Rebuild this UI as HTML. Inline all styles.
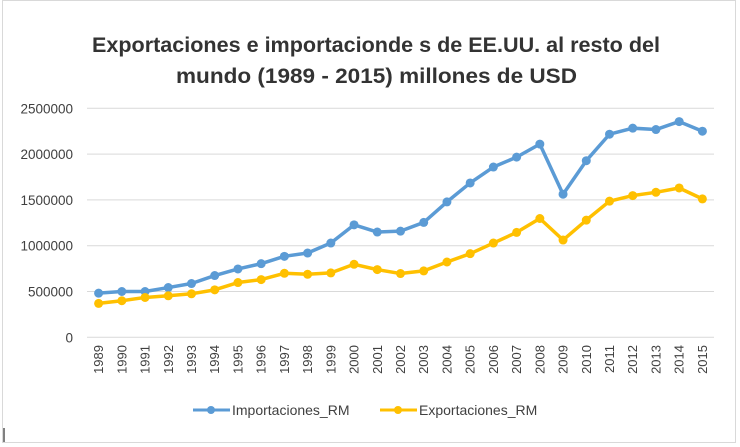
<!DOCTYPE html>
<html><head><meta charset="utf-8"><style>
body{margin:0;background:#fff;}
svg{display:block;font-family:"Liberation Sans",sans-serif;}
</style></head><body>
<svg width="740" height="447" viewBox="0 0 740 447">
<rect x="2.5" y="0.5" width="733" height="442" fill="#fff" stroke="#d9d9d9"/>
<line x1="4" y1="428" x2="4" y2="442" stroke="#000" stroke-width="1"/>
<text font-size="21" font-weight="bold" fill="#333">
<tspan x="92" y="52" textLength="568" lengthAdjust="spacingAndGlyphs">Exportaciones  e importacionde s  de EE.UU. al resto del</tspan>
<tspan x="176" y="83" textLength="401" lengthAdjust="spacingAndGlyphs">mundo  (1989 - 2015) millones  de USD</tspan>
</text>
<g id="grid"></g><g id="yl"></g><g id="xl"></g><g id="series"></g>
<g>
<line x1="193" y1="410" x2="230" y2="410" stroke="#5b9bd5" stroke-width="3"/>
<circle cx="211" cy="410" r="4" fill="#5b9bd5"/>
<text x="232" y="415" font-size="14" fill="#404040">Importaciones_RM</text>
<line x1="380" y1="410" x2="417" y2="410" stroke="#ffc000" stroke-width="3"/>
<circle cx="398" cy="410" r="4" fill="#ffc000"/>
<text x="419" y="415" font-size="14" fill="#404040">Exportaciones_RM</text>
</g>
</svg>
<script>
const years=[1989,1990,1991,1992,1993,1994,1995,1996,1997,1998,1999,2000,2001,2002,2003,2004,2005,2006,2007,2008,2009,2010,2011,2012,2013,2014,2015];
const importaciones=[482000,500000,500000,543000,587000,674000,746000,804000,884000,920000,1029000,1228000,1149000,1159000,1254000,1478000,1685000,1859000,1967000,2109000,1562000,1928000,2217000,2283000,2268000,2355000,2250000];
const exportaciones=[370000,399000,435000,453000,475000,518000,598000,630000,699000,688000,703000,797000,739000,696000,725000,822000,913000,1029000,1145000,1297000,1062000,1279000,1486000,1547000,1583000,1630000,1511000];
const yTicks=[0,500000,1000000,1500000,2000000,2500000];
const NS="http://www.w3.org/2000/svg";
const x0=87,x1=714,y0=337.3,yMax=2500000,yTop=108.3;
const bw=(x1-x0)/years.length;
function xs(i){return x0+bw*(i+0.5);}
function ys(v){return y0-(v/yMax)*(y0-yTop);}
function mk(t,a,p){const e=document.createElementNS(NS,t);for(const k in a)e.setAttribute(k,a[k]);p.appendChild(e);return e;}
const grid=document.getElementById('grid'),yl=document.getElementById('yl'),xl=document.getElementById('xl'),ser=document.getElementById('series');
yTicks.forEach(v=>{
 const l=mk('line',{x1:x0,x2:x1,y1:ys(v),y2:ys(v),stroke:'#d9d9d9','stroke-width':1},grid);
 
 
 const t=mk('text',{x:73,y:ys(v)+5,'text-anchor':'end','font-size':13.5,fill:'#404040'},yl);
 
 
 t.textContent=v;
});
years.forEach((y,i)=>{
 const t=mk('text',{transform:`translate(${xs(i)+4.5},345) rotate(-90)`,'text-anchor':'end','font-size':13,fill:'#404040'},xl);
 
 
 t.textContent=y;
});
function drawSeries(vals,color,name){
 const g=mk('g',{},ser);
 
 
 const pl=mk('polyline',{points:vals.map((v,i)=>xs(i)+','+ys(v)).join(' '),fill:'none',stroke:color,'stroke-width':3.5,'stroke-linejoin':'round'},g);
 
 
 vals.forEach((v,i)=>{
  const c=mk('circle',{cx:xs(i),cy:ys(v),r:4.5,fill:color},g);
  
  
 });
}
drawSeries(importaciones,'#5b9bd5','importaciones-series');
drawSeries(exportaciones,'#ffc000','exportaciones-series');
</script>
</body></html>
